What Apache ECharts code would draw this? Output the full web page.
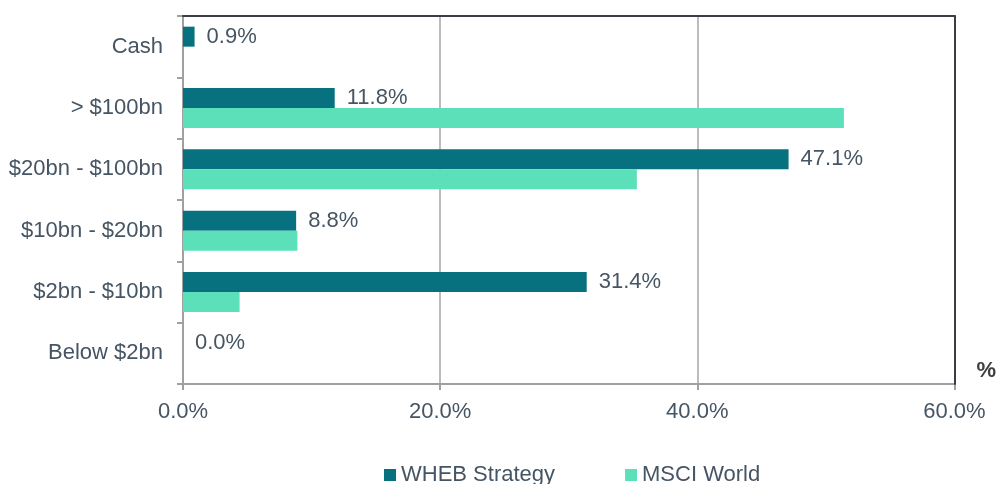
<!DOCTYPE html>
<html>
<head>
<meta charset="utf-8">
<script src="https://cdn.jsdelivr.net/npm/echarts@6/dist/echarts.min.js"></script>
<style>
  html, body { margin: 0; padding: 0; background: #fff; overflow: hidden; }
  #chart { width: 999px; height: 484px; }
</style>
</head>
<body>
<div id="chart"></div>
<script>
// market cap buckets, top to bottom
var categories = ['Cash', '> $100bn', '$20bn - $100bn', '$10bn - $20bn', '$2bn - $10bn', 'Below $2bn'];
var whebValues = [0.9, 11.8, 47.1, 8.8, 31.4, 0.0];
var msciValues = [0, 51.4, 35.3, 8.9, 4.4, 0];
var xTicks = [0, 20, 40, 60];

var textColor = '#465563';
var font = '"Liberation Sans", Arial, sans-serif';

var chart = echarts.init(document.getElementById('chart'));
chart.setOption({
  animation: false,
  textStyle: { fontFamily: font },
  grid: { left: 183, right: 41, top: 16, bottom: 100 },
  legend: {
    left: 379,
    top: 459,
    itemWidth: 12,
    itemHeight: 12,
    itemGap: 70,
    icon: 'rect',
    textStyle: { fontSize: 22, color: textColor, fontFamily: font },
    data: ['WHEB Strategy', 'MSCI World']
  },
  xAxis: [{
    type: 'value',
    min: xTicks[0],
    max: xTicks[xTicks.length - 1],
    interval: 20,
    name: '%',
    nameLocation: 'end',
    nameGap: 22,
    nameTextStyle: { fontSize: 22, fontWeight: 'bold', color: '#404040', fontFamily: font, align: 'left', verticalAlign: 'bottom', padding: [0, 0, 2, 0] },
    axisLine: { show: true, lineStyle: { color: '#a0a0a0', width: 2 } },
    axisTick: { show: true, length: 6, lineStyle: { color: '#a0a0a0', width: 2 } },
    axisLabel: { fontSize: 22, color: textColor, margin: 17, formatter: function (v) { return v.toFixed(1) + '%'; } },
    splitLine: { show: true, showMinLine: false, showMaxLine: false, lineStyle: { color: '#a6a6a6', width: 1.5 } }
  }, {
    type: 'value',
    position: 'top',
    min: 0,
    max: 60,
    z: 5,
    axisLine: { show: true, onZero: false, lineStyle: { color: '#3c3c44', width: 2 } },
    axisTick: { show: false },
    axisLabel: { show: false },
    splitLine: { show: false }
  }],
  yAxis: [{
    type: 'category',
    inverse: true,
    data: categories,
    axisLine: { show: true, lineStyle: { color: '#a0a0a0', width: 2 } },
    axisTick: { show: true, length: 6, lineStyle: { color: '#a0a0a0', width: 2 } },
    axisLabel: { fontSize: 22, color: textColor, margin: 20 }
  }, {
    type: 'category',
    position: 'right',
    inverse: true,
    data: categories,
    z: 5,
    axisLine: { show: true, onZero: false, lineStyle: { color: '#3c3c44', width: 2 } },
    axisTick: { show: false },
    axisLabel: { show: false }
  }],
  series: [{
    name: 'WHEB Strategy',
    type: 'bar',
    data: whebValues,
    barWidth: 20,
    barGap: 0,
    itemStyle: { color: '#07717f' },
    label: {
      show: true,
      position: 'right',
      distance: 12,
      fontSize: 22,
      color: textColor,
      fontFamily: font,
      formatter: function (p) { return p.value.toFixed(1) + '%'; }
    }
  }, {
    name: 'MSCI World',
    type: 'bar',
    data: msciValues,
    barWidth: 20,
    barGap: 0,
    itemStyle: { color: '#5ce0b9' }
  }]
});
</script>
</body>
</html>
